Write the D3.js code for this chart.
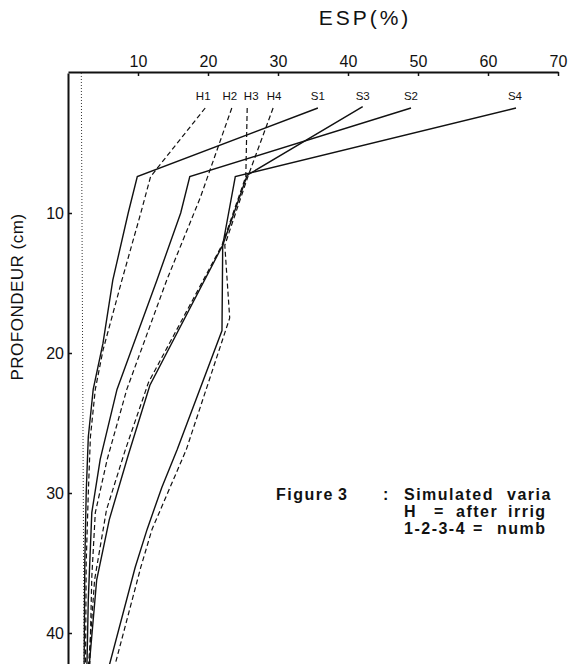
<!DOCTYPE html>
<html>
<head>
<meta charset="utf-8">
<script src="https://cdn.jsdelivr.net/npm/d3@7"></script>
<style>
body { margin: 0; background: #fff; }
svg { display: block; }
text { font-family: "Liberation Sans", Arial, sans-serif; fill: #111; }
</style>
</head>
<body>
<svg width="572" height="664"></svg>
<script>
// ESP (%) against depth (cm)
// each point: [depth, esp]
var S1 = [[2.5, 35.7], [7.4, 9.9], [10, 8.6], [14.8, 6.4], [19.3, 5.0], [22.6, 3.6], [26, 2.9], [30, 2.6], [35, 2.4], [42.5, 2.3]];
var S2 = [[2.5, 49.0], [7.4, 17.4], [10, 16.1], [14.8, 12.7], [20, 8.9], [22.6, 7.0], [27.6, 4.6], [31.4, 3.4], [37.6, 2.9], [42.5, 2.7]];
var S3 = [[2.4, 42.1], [7.3, 25.6], [12.3, 22.1], [22.3, 11.7], [27.3, 8.6], [31.9, 5.9], [36.2, 4.1], [42.5, 3.0]];
var S4 = [[2.5, 64.0], [7.4, 23.9], [12.3, 22.1], [18.4, 22.0], [26.9, 15.6], [29.6, 13.4], [32.6, 11.3], [35.3, 9.6], [42.5, 5.8]];
var H1 = [[2.5, 19.6], [7.4, 11.8], [10, 10.4], [14.8, 7.7], [19.8, 5.0], [22.6, 3.9], [26, 3.2], [30, 2.9], [35, 2.6], [42.5, 2.5]];
var H2 = [[2.5, 23.4], [8.9, 18.9], [14.8, 14.1], [22.6, 8.4], [27.6, 5.6], [31.4, 3.9], [36, 3.4], [42.5, 3.1]];
var H3 = [[2.5, 25.6], [7.4, 25.4], [12.3, 22.0], [22.1, 11.5], [26.9, 8.2], [31.2, 5.5], [36.2, 3.8], [42.5, 2.9]];
var H4 = [[2.5, 29.3], [7.4, 25.7], [12.3, 22.4], [17.5, 23.1], [26.9, 16.9], [32.6, 12.0], [35.3, 10.4], [42.5, 6.6]];
var initial = [[0, 1.9], [42.5, 2.3]];

var solidNames = ["S1", "S3", "S2", "S4"];
var dashedNames = ["H1", "H2", "H3", "H4"];
var seriesData = {S1: S1, S2: S2, S3: S3, S4: S4, H1: H1, H2: H2, H3: H3, H4: H4};
// small nudges so the names do not collide
var labelShift = {H1: -2, H2: -2, H3: 4, H4: 1, S1: 0, S2: 0, S3: 0, S4: -1};

var espTicks = [10, 20, 30, 40, 50, 60, 70];
var depthTicks = [10, 20, 30, 40];

// caption pieces, as they are spaced out in the scan
var caption = [
    [[276, "Figure"], [338, "3"], [383, ":"], [404, "Simulated"], [507, "varia"]],
    [[404, "H"], [434, "="], [456, "after"], [508, "irrig"]],
    [[404, "1-2-3-4"], [473, "="], [497, "numb"]]
];

var svg = d3.select("svg");

var x = d3.scaleLinear().domain([0, 70]).range([68, 558]);
var y = d3.scaleLinear().domain([0, 42.5]).range([73, 668]);

// top axis
var gx = svg.append("g")
    .attr("transform", "translate(0,72)")
    .call(d3.axisTop(x).tickValues(espTicks).tickSize(-4).tickSizeOuter(0).tickPadding(5));
gx.select(".domain").attr("stroke", "#111").attr("stroke-width", 2);
gx.selectAll(".tick line").attr("stroke", "#111").attr("stroke-width", 1.5);
gx.selectAll(".tick text").attr("font-size", 16).attr("fill", "#111")
    .style("font-family", "'Liberation Sans', Arial, sans-serif");

// left axis
var gy = svg.append("g")
    .attr("transform", "translate(68,0)")
    .call(d3.axisLeft(y).tickValues(depthTicks).tickSize(-4).tickSizeOuter(0).tickPadding(4));
gy.select(".domain").attr("stroke", "#111").attr("stroke-width", 2);
gy.selectAll(".tick line").attr("stroke", "#111").attr("stroke-width", 1.5);
gy.selectAll(".tick text").attr("font-size", 16).attr("fill", "#111")
    .style("font-family", "'Liberation Sans', Arial, sans-serif");

svg.append("text")
    .attr("x", 365).attr("y", 25)
    .attr("text-anchor", "middle")
    .attr("font-size", 21)
    .attr("letter-spacing", 3)
    .text("ESP(%)");

svg.append("text")
    .attr("transform", "translate(23,297) rotate(-90)")
    .attr("text-anchor", "middle")
    .attr("font-size", 17)
    .attr("letter-spacing", 0.5)
    .text("PROFONDEUR (cm)");

var line = d3.line()
    .x(function(d) { return x(d[1]); })
    .y(function(d) { return y(d[0]); });

svg.append("path")
    .datum(initial)
    .attr("d", line)
    .attr("fill", "none")
    .attr("stroke", "#333")
    .attr("stroke-width", 1)
    .attr("stroke-dasharray", "1,2");

svg.selectAll(".dash")
    .data(dashedNames)
    .enter()
    .append("path")
    .attr("class", "dash")
    .attr("d", function(d) { return line(seriesData[d]); })
    .attr("fill", "none")
    .attr("stroke", "#111")
    .attr("stroke-width", 1.2)
    .attr("stroke-dasharray", "5,3");

svg.selectAll(".solid")
    .data(solidNames)
    .enter()
    .append("path")
    .attr("class", "solid")
    .attr("d", function(d) { return line(seriesData[d]); })
    .attr("fill", "none")
    .attr("stroke", "#111")
    .attr("stroke-width", 1.4);

// series names sit just above the top end of each curve
svg.selectAll(".lab")
    .data(dashedNames.concat(solidNames))
    .enter()
    .append("text")
    .attr("class", "lab")
    .attr("x", function(d) { return x(seriesData[d][0][1]) + labelShift[d]; })
    .attr("y", 100)
    .attr("text-anchor", "middle")
    .attr("font-size", 11.5)
    .text(function(d) { return d; });

// caption, cut at the right edge like the scan
caption.forEach(function(row, i) {
    row.forEach(function(p) {
        svg.append("text")
            .attr("x", p[0]).attr("y", 500 + i * 17)
            .attr("font-size", 16)
            .attr("font-weight", "bold")
            .attr("letter-spacing", 1.5)
            .text(p[1]);
    });
});
</script>
</body>
</html>
